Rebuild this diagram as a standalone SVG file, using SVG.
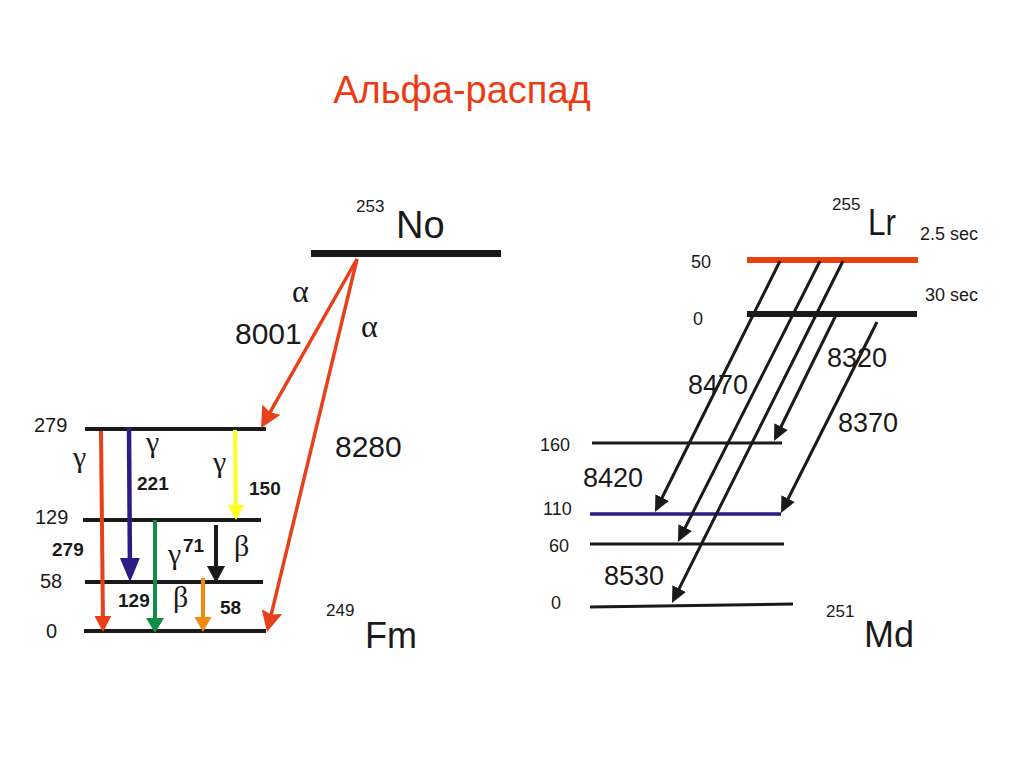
<svg xmlns="http://www.w3.org/2000/svg" width="1024" height="767" viewBox="0 0 1024 767">
<style>
text{font-family:"Liberation Sans",Arial,sans-serif;fill:#1a1a1a}
.t{font-size:38px;fill:#ee3a10}
.el{font-size:37px}
.sup{font-size:17px}
.big{font-size:30px}
.mid{font-size:27px}
.lv{font-size:18px}
.lvL{font-size:20px}
.b{font-size:19px;font-weight:bold}
.g{font-family:"Liberation Serif","DejaVu Serif",serif;font-size:30px}
.a{font-family:"Liberation Serif","DejaVu Serif",serif;font-size:32px}
.sec{font-size:18px}
.lvl{stroke:#1a1a1a;stroke-width:4;fill:none}
.blk{stroke:#1a1a1a;stroke-width:3;fill:none}
</style>
<defs>
<marker id="hR" markerUnits="userSpaceOnUse" markerWidth="24" markerHeight="24" refX="15" refY="10.5" orient="auto"><path d="M0,0 L21,10.5 L0,21 L3,10.5 z" fill="#e8401a"/></marker>
<marker id="hRv" markerUnits="userSpaceOnUse" markerWidth="24" markerHeight="24" refX="10" refY="8.5" orient="auto"><path d="M0,0 L16,8.5 L0,17 z" fill="#e8401a"/></marker>
<marker id="hP" markerUnits="userSpaceOnUse" markerWidth="30" markerHeight="30" refX="18" refY="10" orient="auto"><path d="M0,0 L24,10 L0,20 z" fill="#2e1a86"/></marker>
<marker id="hY" markerUnits="userSpaceOnUse" markerWidth="24" markerHeight="24" refX="9" refY="8.5" orient="auto"><path d="M0,0 L15,8.5 L0,17 z" fill="#ffff22"/></marker>
<marker id="hG" markerUnits="userSpaceOnUse" markerWidth="24" markerHeight="24" refX="9" refY="9" orient="auto"><path d="M0,0 L15,9 L0,18 z" fill="#0f8c45"/></marker>
<marker id="hK" markerUnits="userSpaceOnUse" markerWidth="24" markerHeight="24" refX="11" refY="9" orient="auto"><path d="M0,0 L17,9 L0,18 z" fill="#1a1a1a"/></marker>
<marker id="hO" markerUnits="userSpaceOnUse" markerWidth="24" markerHeight="24" refX="9" refY="8.5" orient="auto"><path d="M0,0 L15,8.5 L0,17 z" fill="#f08a0c"/></marker>
<marker id="hB" markerUnits="userSpaceOnUse" markerWidth="24" markerHeight="24" refX="11" refY="7.5" orient="auto"><path d="M0,0 L16,7.5 L0,15 z" fill="#1a1a1a"/></marker>
</defs>

<text class="t" x="462" y="103" text-anchor="middle">Альфа-распад</text>

<g id="No">
<line x1="311" y1="253.5" x2="501" y2="253.5" stroke="#1a1a1a" stroke-width="7"/>
<text class="sup" x="356" y="212">253</text>
<text class="el" x="396" y="238" style="font-size:38px">No</text>
</g>

<g id="Fm">
<text class="sup" x="326" y="616">249</text>
<text class="el" x="365" y="648" style="font-size:36px">Fm</text>
<line class="lvl" x1="85" y1="429" x2="266" y2="429"/>
<line class="lvl" x1="83" y1="520" x2="261" y2="520"/>
<line class="lvl" x1="85" y1="582" x2="263" y2="582"/>
<line class="lvl" x1="84" y1="631" x2="266" y2="631"/>
<text class="lvL" x="34" y="432">279</text>
<text class="lvL" x="35" y="524">129</text>
<text class="lvL" x="40" y="588">58</text>
<text class="lvL" x="46" y="638">0</text>
</g>

<g id="Lr">
<text class="sup" x="832" y="210">255</text>
<text class="el" x="868" y="235" textLength="28" lengthAdjust="spacingAndGlyphs">Lr</text>
<text class="sec" x="920" y="240">2.5 sec</text>
<text class="sec" x="925" y="301">30 sec</text>
<line x1="747" y1="260" x2="918" y2="260" stroke="#e8400f" stroke-width="6"/>
<line x1="747" y1="314" x2="917" y2="314" stroke="#1a1a1a" stroke-width="6"/>
<text class="lv" x="691" y="268">50</text>
<text class="lv" x="693" y="325">0</text>
</g>

<g id="Md">
<text class="sup" x="826" y="617">251</text>
<text class="el" x="864" y="647" style="font-size:36px">Md</text>
<line class="blk" x1="592" y1="443" x2="782" y2="443" stroke-width="3.5"/>
<line x1="590" y1="514" x2="781" y2="514" stroke="#2e1a80" stroke-width="3.5"/>
<line class="blk" x1="590" y1="544" x2="784" y2="544"/>
<line class="blk" x1="590" y1="607" x2="793" y2="604" stroke-width="3.5"/>
<text class="lv" x="540" y="451">160</text>
<text class="lv" x="543" y="515">110</text>
<text class="lv" x="549" y="552">60</text>
<text class="lv" x="551" y="609">0</text>
</g>

<g id="connectors">
<line x1="357" y1="259" x2="264" y2="422.8" stroke="#e8401a" stroke-width="3.5" marker-end="url(#hR)"/>
<line x1="357" y1="259" x2="268.4" y2="626.2" stroke="#e8401a" stroke-width="3.5" marker-end="url(#hR)"/>
<line x1="101" y1="431" x2="103" y2="626" stroke="#e8401a" stroke-width="4" marker-end="url(#hRv)"/>
<line x1="129" y1="427" x2="130" y2="576" stroke="#2e1a86" stroke-width="4.5" marker-end="url(#hP)"/>
<line x1="235" y1="430" x2="236" y2="514" stroke="#ffff22" stroke-width="4" marker-end="url(#hY)"/>
<line x1="155" y1="520" x2="155" y2="627" stroke="#0f8c45" stroke-width="4" marker-end="url(#hG)"/>
<line x1="216" y1="525" x2="216" y2="577" stroke="#1a1a1a" stroke-width="4" marker-end="url(#hK)"/>
<line x1="203" y1="578" x2="203" y2="626" stroke="#f08a0c" stroke-width="4" marker-end="url(#hO)"/>
<line class="blk" x1="780" y1="261" x2="657.2" y2="507.5" marker-end="url(#hB)"/>
<line class="blk" x1="820" y1="261" x2="680.2" y2="537.5" marker-end="url(#hB)"/>
<line class="blk" x1="843" y1="261" x2="674.2" y2="598.5" marker-end="url(#hB)"/>
<line class="blk" x1="837" y1="313" x2="776.2" y2="436.5" marker-end="url(#hB)"/>
<line class="blk" x1="877" y1="322" x2="783.2" y2="508.5" marker-end="url(#hB)"/>
</g>

<g id="labels">
<text class="a" x="292" y="302">α</text>
<text class="a" x="361" y="337">α</text>
<text class="big" x="235" y="344">8001</text>
<text class="big" x="335" y="457">8280</text>
<text class="g" x="73" y="467">γ</text>
<text class="g" x="146" y="452">γ</text>
<text class="g" x="213" y="472">γ</text>
<text class="g" x="168" y="564">γ</text>
<text class="g" x="234" y="556">β</text>
<text class="g" x="173" y="607">β</text>
<text class="b" x="137" y="490">221</text>
<text class="b" x="249" y="495">150</text>
<text class="b" x="52" y="556">279</text>
<text class="b" x="183" y="552">71</text>
<text class="b" x="118" y="607">129</text>
<text class="b" x="220" y="614">58</text>
<text class="mid" x="827" y="367">8320</text>
<text class="mid" x="688" y="394">8470</text>
<text class="mid" x="838" y="432">8370</text>
<text class="mid" x="583" y="487">8420</text>
<text class="mid" x="604" y="585">8530</text>
</g>
</svg>
